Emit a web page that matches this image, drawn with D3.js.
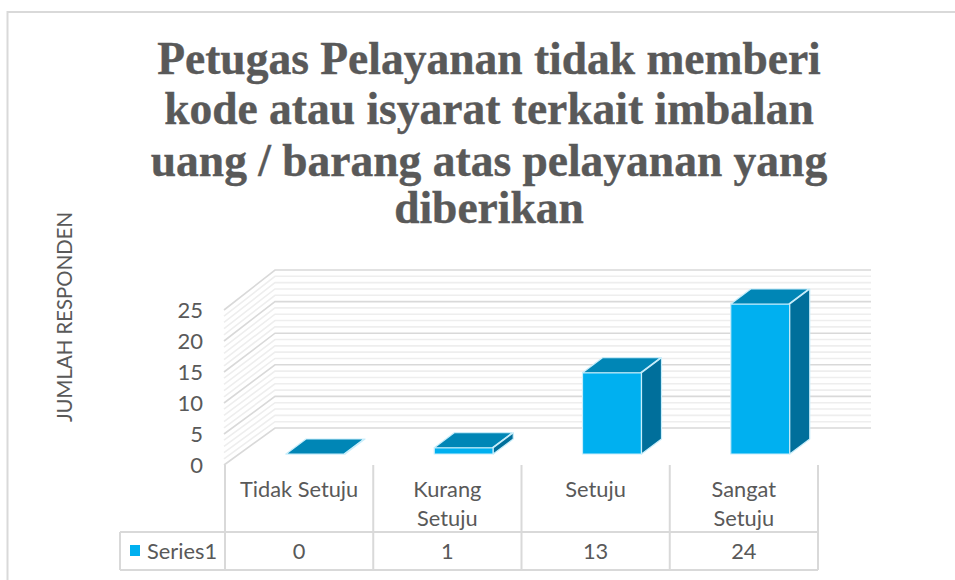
<!DOCTYPE html>
<html><head><meta charset="utf-8">
<script src="https://cdn.jsdelivr.net/npm/d3@7"></script>
<style>html,body{margin:0;padding:0;background:#fff}svg{display:block}</style>
</head><body><svg id="c" width="955" height="580"></svg>
<script>
const categories = ["Tidak Setuju", "Kurang Setuju", "Setuju", "Sangat Setuju"];
const categoryLines = [["Tidak Setuju"], ["Kurang", "Setuju"], ["Setuju"], ["Sangat", "Setuju"]];
const values = [0, 1, 13, 24];
const yTicks = [0, 5, 10, 15, 20, 25];
const minorTicks = d3.range(0, 25.01, 1).filter(v => v % 5 !== 0);
const titleLines = ["Petugas Pelayanan tidak memberi", "kode atau isyarat terkait imbalan", "uang / barang atas pelayanan yang", "diberikan"];
const seriesName = "Series1";
const yTitle = "JUMLAH RESPONDEN";

const svg = d3.select("#c");
const sans = "Lato, sans-serif";
const grey = "#595959", line = "#d9d9d9", minor = "#eeeeee";

// frame
svg.append("path").attr("d", "M7.5,580V12H955").attr("fill", "none").attr("stroke", line).attr("stroke-width", 2);

// title
svg.append("g").selectAll("text").data(titleLines).join("text")
  .attr("x", 489).attr("y", (d, i) => [74, 124, 176, 223][i])
  .attr("text-anchor", "middle").attr("fill", grey).attr("stroke", grey).attr("stroke-width", 0.4)
  .attr("font-family", "'Liberation Serif', serif").attr("font-weight", "bold").attr("font-size", 45.5)
  .text(d => d);

// scales
const yFront = d3.scaleLinear().domain([0, 25]).range([465, 310]);
const yBack = d3.scaleLinear().domain([0, 25]).range([428, 270]);
const yBar = d3.scaleLinear().domain([0, 25]).range([454, 297.75]);
const x = d3.scaleBand().domain(categories).range([225, 818]);
const wallL = 275, wallR = 871, frontL = 224;
const depthX = 20, depthY = -15;
const barOffset = 61, barW = 59;

// minor gridlines
const g = svg.append("g").attr("fill", "none");
const wall = v => `M${frontL},${yFront(v)}L${wallL},${yBack(v)}H${wallR}`;
g.selectAll(".mn").data(minorTicks).join("path").attr("d", wall).attr("stroke", minor).attr("stroke-width", 1.6);
g.selectAll(".mj").data(yTicks).join("path").attr("d", wall).attr("stroke", line).attr("stroke-width", 1.6);

// y axis tick labels
svg.append("g").selectAll("text").data(yTicks).join("text")
  .attr("x", 203).attr("y", d => yFront(d) + 8).attr("text-anchor", "end")
  .attr("fill", grey).attr("font-family", sans).attr("font-size", 22).text(d => d);

// y title
svg.append("text").attr("transform", "translate(72,317) rotate(-90)").attr("text-anchor", "middle")
  .attr("fill", grey).attr("font-family", sans).attr("font-size", 20.4).text(yTitle);

// bars
const bars = svg.append("g").selectAll("g").data(values).join("g")
  .attr("stroke", "#c9eefb").attr("stroke-width", 1.2).attr("stroke-linejoin", "round");
const bx = (d, i) => x(categories[i]) + barOffset;
bars.append("path").attr("fill", "#00b0f0")
  .attr("d", (d, i) => `M${bx(d, i)},${yBar(0)}V${yBar(d)}h${barW}V${yBar(0)}Z`);
bars.append("path").attr("fill", "#0086b6")
  .attr("d", (d, i) => `M${bx(d, i)},${yBar(d)}l${depthX},${depthY}h${barW - 1}l${-depthX},${-depthY}Z`);
bars.append("path").attr("fill", "#006f9b")
  .attr("d", (d, i) => `M${bx(d, i) + barW},${yBar(d)}l${depthX},${depthY}V${yBar(0) + depthY}l${-depthX},${-depthY}Z`);

// data table
const tbl = svg.append("g").attr("stroke", line).attr("stroke-width", 2).attr("fill", "none");
const edges = [225, ...categories.map(c => x(c) + x.bandwidth())];
tbl.selectAll("line").data(edges).join("line")
  .attr("x1", d => d).attr("x2", d => d).attr("y1", 465).attr("y2", 570);
tbl.append("path").attr("d", "M120,532H818M120,570H818M120,532V570");

const cats = svg.append("g").attr("fill", grey).attr("font-family", sans).attr("font-size", 21.8).attr("text-anchor", "middle");
categoryLines.forEach((ls, i) => {
  cats.selectAll(null).data(ls).join("text")
    .attr("x", x(categories[i]) + x.bandwidth() / 2)
    .attr("y", (d, j) => 497 + j * 29).text(d => d);
});
svg.append("g").selectAll("text").data(values).join("text")
  .attr("x", (d, i) => x(categories[i]) + x.bandwidth() / 2).attr("y", 559)
  .attr("text-anchor", "middle").attr("fill", grey).attr("font-family", sans).attr("font-size", 21.8).text(d => d);
svg.append("rect").attr("x", 130).attr("y", 545).attr("width", 10).attr("height", 11).attr("fill", "#00b0f0");
svg.append("text").attr("x", 147).attr("y", 559).attr("fill", grey).attr("font-family", sans).attr("font-size", 21.8).text(seriesName);
</script></body></html>
